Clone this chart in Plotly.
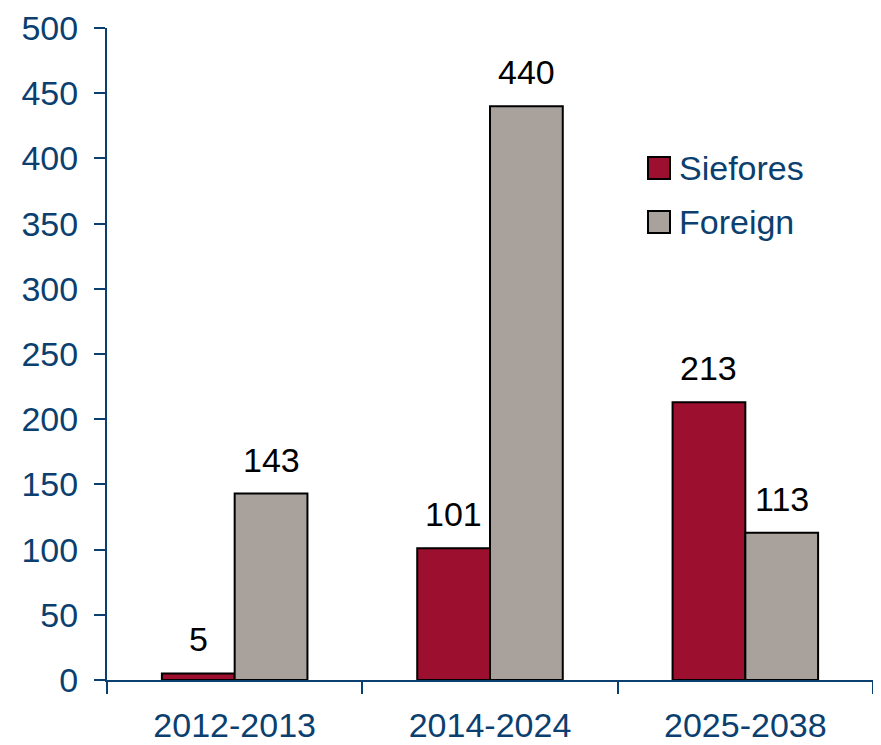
import plotly.graph_objs as go

periods = ["2012-2013", "2014-2024", "2025-2038"]
siefores = [5, 101, 213]
foreign = [143, 440, 113]
y_ticks = [0, 50, 100, 150, 200, 250, 300, 350, 400, 450, 500]
series_names = ["Siefores", "Foreign"]

blue = "#0B3F70"
red = "#9C0F2E"
grey = "#A9A29C"
font = "Liberation Sans, Arial, sans-serif"

# the page body adds an 8px offset; plot area on screen is about x 107..873, y 28..680
L, R, T, B = 99, 16, 20, 73
W, H = 881, 745
pw, ph = W - L - R, H - T - B
sx, sy = 8 + L, 8 + T  # screen position of plot area top-left

fig = go.Figure()

fig.add_trace(go.Bar(x=periods, y=siefores, name="Siefores", showlegend=False,
                     marker=dict(color=red, line=dict(color="black", width=2))))
fig.add_trace(go.Bar(x=periods, y=foreign, name="Foreign", showlegend=False,
                     marker=dict(color=grey, line=dict(color="black", width=2))))

# value labels above bars
bar_px = pw / 3 * (1 - 0.43) / 2
for vals, off in [(siefores, -bar_px / 2), (foreign, bar_px / 2)]:
    for p, v in zip(periods, vals):
        fig.add_annotation(x=p, y=v, text=str(v), showarrow=False,
                           xshift=off, yshift=13, yanchor="bottom",
                           font=dict(size=34, color="black", family=font))

# legend
for i, (nm, col) in enumerate(zip(series_names, [red, grey])):
    cy = 168 + i * 54
    fig.add_shape(type="rect", xref="paper", yref="paper",
                  x0=(648 - sx) / pw, x1=(670 - sx) / pw,
                  y0=1 - (cy - 11 - sy) / ph, y1=1 - (cy + 11 - sy) / ph,
                  fillcolor=col, line=dict(color="black", width=2))
    fig.add_annotation(xref="paper", yref="paper", x=(677 - sx) / pw,
                       y=1 - (cy - sy) / ph, text=nm, showarrow=False,
                       xanchor="left", yanchor="middle",
                       font=dict(size=34, color=blue, family=font))

fig.update_layout(
    width=W, height=H,
    margin=dict(l=L, r=R, t=T, b=B),
    plot_bgcolor="white", paper_bgcolor="white",
    barmode="group", bargap=0.43, bargroupgap=0,
    font=dict(family=font, color=blue, size=34),
    showlegend=False,
)

fig.update_xaxes(showline=True, linecolor=blue, linewidth=2, automargin=False,
                 ticks="outside", ticklen=12, tickwidth=2, tickcolor=blue,
                 tickson="boundaries", tickfont=dict(size=34, color=blue),
                 ticklabelstandoff=14, ticklabeloverflow="allow",
                 showgrid=False)
fig.update_yaxes(range=[0, 500], tickvals=y_ticks, showline=True, linecolor=blue,
                 linewidth=2, ticks="outside", ticklen=11, tickwidth=2,
                 tickcolor=blue, tickfont=dict(size=34, color=blue),
                 ticklabelstandoff=9, ticklabeloverflow="allow",
                 showgrid=False, zeroline=False, automargin=False)

fig.write_html("out.html")
